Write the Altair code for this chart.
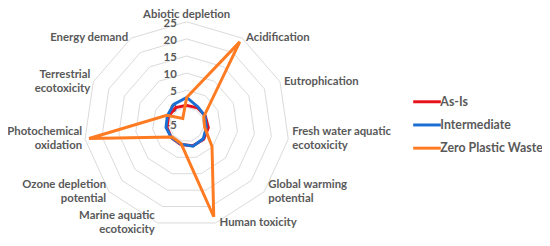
import altair as alt
import pandas as pd

categories = ["Abiotic depletion", "Acidification", "Eutrophication",
              "Fresh water aquatic\necotoxicity", "Global warming\npotential",
              "Human toxicity", "Marine aquatic\necotoxicity",
              "Ozone depletion\npotential", "Photochemical\noxidation",
              "Terrestrial\necotoxicity", "Energy demand"]
series_names = ["As-Is", "Intermediate", "Zero Plastic Waste"]
as_is = [0.6, 0.8, 1.0, 1.4, 1.6, 1.5, 1.1, 0.9, 0.8, 0.8, 0.9]
intermediate = [2.9, 1.1, 0.9, 0.8, 1.4, 1.6, 1.0, 0.9, 1.1, 1.2, 2.0]
zero_plastic = [2.9, 23.7, 0.5, 0.3, 4.8, 23.1, 0.8, 0.6, 23.8, 1.4, -2.9]
ticks = [-5, 0, 5, 10, 15, 20, 25]
colors = ["#e8121b", "#1b6fd2", "#ff7b22"]

N = len(categories)
R_MIN = ticks[0]
R_MAX = ticks[-1]
W, H = 541, 230
CX, CY = 181, 116.5
K = 104 / (R_MAX - R_MIN)
XDOM = [-CX / K, (W - CX) / K]
YDOM = [-(H - CY) / K, CY / K]

FONT = "Lato"
GREY = "#595959"
FS = 11.5
LH = 14.5

rows = []
for name, vals in zip(series_names, [as_is, intermediate, zero_plastic]):
    for i, v in enumerate(vals):
        rows.append({"series": name, "idx": i, "value": v})
df = pd.DataFrame(rows)

grid = pd.DataFrame([{"tick": t, "idx": i} for t in ticks for i in range(N)])
cat_df = pd.DataFrame({"label": categories, "idx": list(range(N))})
tick_df = pd.DataFrame({"tick": ticks, "label": [str(t) for t in ticks]})

xs = alt.Scale(domain=XDOM, nice=False, zero=False)
ys = alt.Scale(domain=YDOM, nice=False, zero=False)
ang = f"datum.idx * 2 * PI / {N}"


def polar(chart, field):
    return chart.transform_calculate(
        rr=f"datum.{field} - ({R_MIN})"
    ).transform_calculate(
        x=f"datum.rr * sin({ang})", y=f"datum.rr * cos({ang})"
    )


grid_layer = polar(alt.Chart(grid), "tick").mark_line(
    interpolate="linear-closed", stroke="#d9d9d9", strokeWidth=1
).encode(
    x=alt.X("x:Q", scale=xs, axis=None),
    y=alt.Y("y:Q", scale=ys, axis=None),
    detail="tick:N",
    order="idx:Q",
)

lines = polar(alt.Chart(df), "value").mark_line(
    interpolate="linear-closed", strokeWidth=3
).encode(
    x=alt.X("x:Q", scale=xs, axis=None),
    y=alt.Y("y:Q", scale=ys, axis=None),
    color=alt.Color(
        "series:N",
        scale=alt.Scale(domain=series_names, range=colors),
        legend=alt.Legend(
            title=None, orient="none", legendX=416, legendY=85,
            symbolType="M-2,0H2", symbolSize=196, symbolStrokeWidth=3,
            labelFont=FONT, labelFontSize=12.5, labelFontWeight="bold",
            labelColor=GREY, labelOffset=5, rowPadding=8.5,
        ),
    ),
    order="idx:Q",
)

tick_labels = alt.Chart(tick_df).transform_calculate(
    x="0", y=f"datum.tick - ({R_MIN})"
).mark_text(
    align="right", baseline="middle", dx=-10, dy=2, font=FONT, fontSize=FS,
    fontWeight="bold", color=GREY
).encode(
    x=alt.X("x:Q", scale=xs, axis=None),
    y=alt.Y("y:Q", scale=ys, axis=None),
    text="label:N",
)


def cat_layer(flt, align, baseline, dx, dy):
    base = alt.Chart(cat_df).transform_filter(flt).transform_calculate(
        rr=f"{R_MAX} - ({R_MIN})",
        nl="length(split(datum.label, '\\n'))",
    ).transform_calculate(
        x=f"datum.rr * sin({ang})",
        y=f"datum.rr * cos({ang}) + (datum.nl - 1) * {LH / 2} / {K}",
    )
    return base.mark_text(
        align=align, baseline=baseline, dx=dx, dy=dy, lineBreak="\n",
        lineHeight=LH, font=FONT, fontSize=FS, fontWeight="bold", color=GREY
    ).encode(
        x=alt.X("x:Q", scale=xs, axis=None),
        y=alt.Y("y:Q", scale=ys, axis=None),
        text="label:N",
    )


top_lab = cat_layer("datum.idx == 0", "center", "bottom", 0, -2)
right_lab = cat_layer(f"datum.idx > 0 && datum.idx <= {N // 2}", "left", "middle", 4, 0)
left_lab = cat_layer(f"datum.idx > {N // 2}", "right", "middle", -3, 0)

chart = alt.layer(
    grid_layer, tick_labels, lines, top_lab, right_lab, left_lab
).properties(
    width=W, height=H, padding=0, autosize="none"
).configure_view(stroke=None)

chart.save("out.html", embed_options={"renderer": "svg", "actions": False})
